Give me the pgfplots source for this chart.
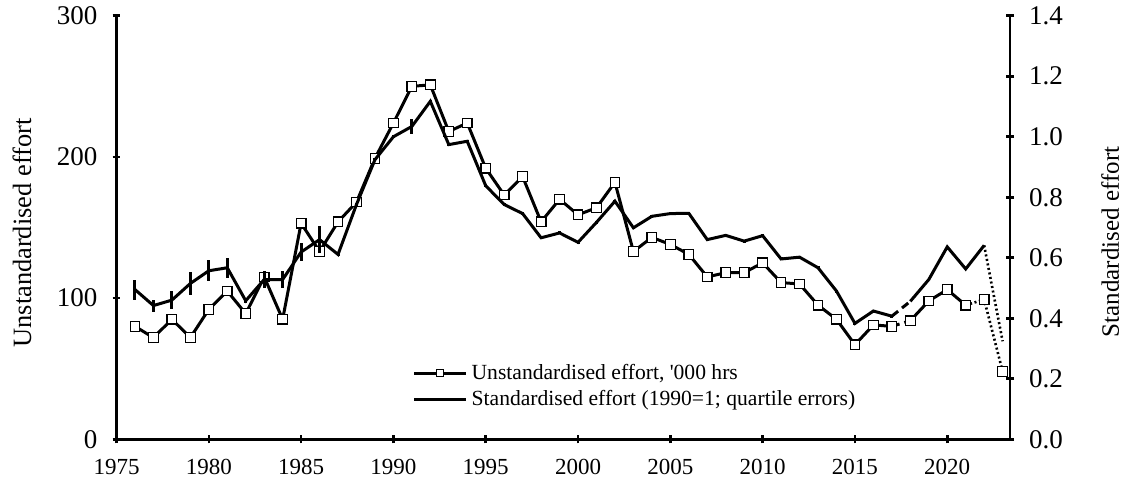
\documentclass[border=0pt]{standalone}
\usepackage{fontspec}
\setmainfont{Liberation Serif}
\usepackage{pgfplots}
\pgfplotsset{compat=1.18}
\pgfplotstableread{
x y
1976 80
1977 72
1978 85
1979 72
1980 92
1981 105
1982 89
1983 115
1984 85
1985 153
1986 133
1987 154
1988 168
1989 199
1990 224
1991 250
1992 251
1993 218
1994 224
1995 192
1996 173
1997 186
1998 154
1999 170
2000 159
2001 164
2002 182
2003 133
2004 143
2005 138
2006 131
2007 115
2008 118
2009 118
2010 125
2011 111
2012 110
2013 95
2014 85
2015 67
2016 81
2017 80
}\unstdA
\pgfplotstableread{
x y
2018 84
2019 98
2020 106
2021 95
}\unstdB
\pgfplotstableread{
x y
2021 95
2022 99
2023 48
}\unstdC
\pgfplotstableread{
x y
2017 80
2018 84
}\unstdD
\pgfplotstableread{
x y e
1976 0.495 0.033
1977 0.442 0.020
1978 0.460 0.030
1979 0.515 0.038
1980 0.557 0.034
1981 0.567 0.033
1982 0.458 0.008
1983 0.528 0.027
1984 0.528 0.027
1985 0.619 0.030
1986 0.660 0.044
1987 0.611 0.005
1988 0.776 0.005
1989 0.924 0.005
1990 1.000 0.005
1991 1.034 0.025
1992 1.117 0.005
1993 0.974 0.005
1994 0.985 0.005
1995 0.838 0.005
1996 0.776 0.005
1997 0.746 0.005
1998 0.666 0.005
1999 0.682 0.005
2000 0.651 0.005
2001 0.717 0.005
2002 0.787 0.005
2003 0.699 0.005
2004 0.737 0.005
2005 0.746 0.005
2006 0.747 0.005
2007 0.660 0.005
2008 0.674 0.005
2009 0.655 0.005
2010 0.673 0.005
2011 0.596 0.005
2012 0.602 0.005
2013 0.567 0.005
2014 0.490 0.005
2015 0.383 0.005
2016 0.424 0.005
2017 0.407 0.005
}\stdA
\pgfplotstableread{
x y
2017 0.407
2018 0.456
}\stdD
\pgfplotstableread{
x y
2018 0.456
2019 0.528
2020 0.636
2021 0.563
2022 0.641
}\stdB
\pgfplotstableread{
x y
2022 0.641
2023 0.324
}\stdC
\begin{document}
\begin{tikzpicture}
\pgfplotsset{
  base/.style={
    scale only axis, width=446.75pt, height=211.8pt,
    xmin=1975, xmax=2023.4,
    tick style={line width=1.3pt, black},
    major tick length=4pt,
    tick align=outside,
    /pgf/number format/assume math mode=true,
    clip=false,
  },
  legend image code/.code={\draw[mark repeat=2,mark phase=2,#1] plot coordinates {(0pt,0pt) (13pt,0pt) (26pt,0pt)};},
}
\begin{axis}[base,
  axis x line=bottom, axis y line=left,
  axis line style={-, line width=1.3pt},
  ymin=0, ymax=300, ytick={0,100,200,300},
  xtick={1975,1980,...,2020},
  xticklabel style={font=\fontsize{11.5}{12}\selectfont, /pgf/number format/1000 sep={}, yshift=-4.5pt},
  yticklabel style={font=\fontsize{13.5}{14}\selectfont, xshift=-4pt},
  ylabel={Unstandardised effort},
  ylabel style={at={(axis description cs:-0.1058,0.487)}, anchor=center, font=\fontsize{13.2}{14}\selectfont},
]
\addplot[black, line width=1.5pt, dash pattern={on 4pt off 2.5pt}] table[x=x,y=y] {\unstdD};
\addplot[black, line width=1.3pt, dash pattern={on 1pt off 1.3pt}] table[x=x,y=y] {\unstdC};
\addplot[black, line width=1.5pt, mark=square*, mark size=2.4pt, mark options={solid, fill=white, line width=0.6pt}] table[x=x,y=y] {\unstdA};
\addplot[black, line width=1.5pt, mark=square*, mark size=2.4pt, mark options={solid, fill=white, line width=0.6pt}] table[x=x,y=y] {\unstdB};
\addplot[black, only marks, mark=square*, mark size=2.4pt, mark options={solid, fill=white, line width=0.6pt}] table[x=x,y=y] {\unstdC};
\end{axis}
\begin{axis}[base,
  axis x line=none, axis y line=right,
  axis line style={-, line width=1.3pt},
  xtick=\empty,
  ymin=0, ymax=1.4, ytick={0,0.2,0.4,0.6,0.8,1.0,1.2,1.4},
  yticklabel style={font=\fontsize{13.5}{14}\selectfont, xshift=4pt, /pgf/number format/.cd, fixed, fixed zerofill, precision=1},
  ylabel={Standardised effort},
  ylabel style={at={(axis description cs:1.112,0.466)}, anchor=center, font=\fontsize{12.5}{14}\selectfont},
  legend style={at={(axis description cs:0.331,0.188)}, anchor=north west, draw=none, fill=none,
    font=\fontsize{10.8}{12.5}\selectfont, cells={anchor=west}, inner sep=0pt, row sep=0pt,
    /tikz/every even column/.append style={column sep=1pt}},
]
\addlegendimage{black, line width=1.5pt, mark=square*, mark size=1.8pt, mark options={solid, fill=white, line width=0.6pt}}
\addlegendentry{Unstandardised effort, \textquotesingle 000 hrs}
\addplot[black, line width=1.5pt, mark=none, error bars/.cd, y dir=both, y explicit, error mark=none, error bar style={line width=1.5pt}] table[x=x,y=y,y error=e] {\stdA};
\addlegendentry{Standardised effort (1990=1; quartile errors)}
\addplot[black, line width=1.5pt, dash pattern={on 4pt off 2.5pt}, forget plot] table[x=x,y=y] {\stdD};
\addplot[black, line width=1.5pt, forget plot] table[x=x,y=y] {\stdB};
\addplot[black, line width=1.3pt, dash pattern={on 1pt off 1.3pt}, forget plot] table[x=x,y=y] {\stdC};
\end{axis}
\pgfresetboundingbox
\path (-58.25pt,-22.35pt) rectangle (502.75pt,219.65pt);
\end{tikzpicture}
\end{document}
